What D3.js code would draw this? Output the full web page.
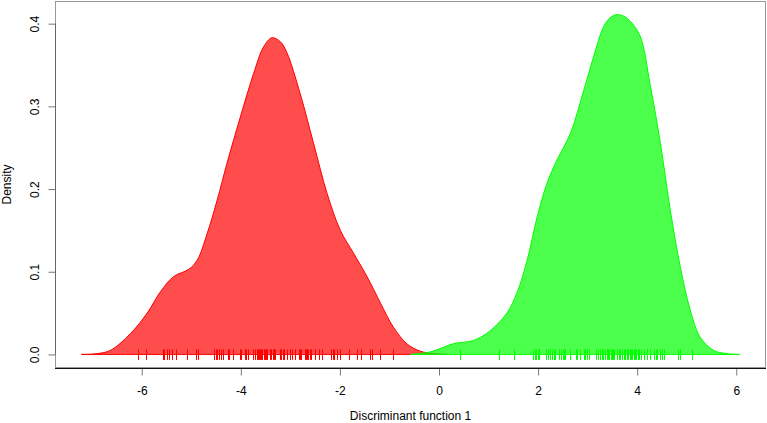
<!DOCTYPE html>
<html>
<head>
<meta charset="utf-8">
<script src="https://cdn.jsdelivr.net/npm/d3@7"></script>
<style>
body { margin: 0; background: #fff; }
text { font-family: "Liberation Sans", Arial, sans-serif; }
</style>
</head>
<body>
<svg id="chart" width="767" height="423"></svg>
<script>
// Density estimate, group 1 (red)
const redX = [-7.22, -6.9, -6.63, -6.23, -5.89, -5.62, -5.36, -5.05, -4.88, -4.68, -4.48, -4.28, -4.01, -3.74, -3.54, -3.37, -3.20, -3.07, -2.80, -2.53, -2.26, -1.99, -1.72, -1.45, -1.18, -0.92, -0.65, -0.38, -0.11, 0.19];
const redY = [0, 0.001, 0.005, 0.025, 0.050, 0.076, 0.094, 0.103, 0.114, 0.146, 0.186, 0.231, 0.287, 0.340, 0.372, 0.383, 0.378, 0.365, 0.315, 0.255, 0.195, 0.150, 0.122, 0.094, 0.062, 0.033, 0.013, 0.004, 0.001, 0];
// Density estimate, group 2 (green)
const greenX = [-0.58, -0.18, 0.29, 0.70, 1.04, 1.37, 1.57, 1.78, 1.98, 2.18, 2.38, 2.65, 2.92, 3.12, 3.32, 3.45, 3.59, 3.73, 3.86, 4.06, 4.26, 4.47, 4.67, 4.87, 5.07, 5.27, 5.54, 5.81, 6.07];
const greenY = [0, 0.003, 0.013, 0.017, 0.029, 0.050, 0.074, 0.114, 0.166, 0.207, 0.235, 0.267, 0.319, 0.360, 0.396, 0.407, 0.411, 0.409, 0.403, 0.385, 0.327, 0.255, 0.174, 0.106, 0.054, 0.021, 0.005, 0.001, 0];
// Rug: observed scores
const redRug = [-6.08, -5.92, -5.58, -5.54, -5.49, -5.45, -5.39, -5.30, -5.09, -4.91, -4.87, -4.55, -4.51, -4.48, -4.45, -4.39, -4.36, -4.25, -4.23, -4.16, -4.02, -4.00, -3.92, -3.89, -3.86, -3.75, -3.71, -3.67, -3.65, -3.63, -3.61, -3.59, -3.57, -3.54, -3.52, -3.50, -3.47, -3.42, -3.39, -3.36, -3.34, -3.31, -3.20, -3.18, -3.14, -3.12, -3.07, -3.00, -2.97, -2.91, -2.83, -2.81, -2.78, -2.71, -2.68, -2.66, -2.64, -2.61, -2.58, -2.50, -2.42, -2.36, -2.17, -2.14, -2.11, -2.06, -1.99, -1.82, -1.66, -1.58, -1.39, -1.35, -1.19, -0.93];
const greenRug = [0.42, 1.21, 1.51, 1.90, 1.93, 1.96, 2.00, 2.02, 2.16, 2.20, 2.25, 2.29, 2.33, 2.35, 2.43, 2.46, 2.50, 2.53, 2.55, 2.64, 2.76, 2.78, 2.85, 2.92, 2.95, 2.99, 3.02, 3.17, 3.20, 3.24, 3.28, 3.32, 3.36, 3.39, 3.42, 3.44, 3.47, 3.50, 3.52, 3.54, 3.59, 3.63, 3.66, 3.69, 3.73, 3.76, 3.79, 3.82, 3.85, 3.87, 3.90, 3.93, 3.96, 3.98, 4.01, 4.04, 4.08, 4.13, 4.20, 4.26, 4.33, 4.37, 4.40, 4.47, 4.50, 4.55, 4.82, 4.86, 5.10];
const xTicks = [-6, -4, -2, 0, 2, 4, 6];
const yTicks = [0.0, 0.1, 0.2, 0.3, 0.4];
const xLabel = "Discriminant function 1";
const yLabel = "Density";

const svg = d3.select("#chart");
const L = 55, R = 766, T = 1, B = 368;
const x = d3.scaleLinear().domain([-7.75, 6.60]).range([L, R]);
const y = d3.scaleLinear().domain([-0.0164, 0.4274]).range([B, T]);

function areaPath(xs, ys) {
  const pts = xs.map((v, i) => [v, ys[i]]);
  return d3.area().x(d => x(d[0])).y0(y(0)).y1(d => y(d[1])).curve(d3.curveCatmullRom.alpha(0.5))(pts);
}

// plot box
svg.append("rect").attr("x", L + 0.5).attr("y", T + 0.5).attr("width", R - L - 1).attr("height", B - T - 1)
  .attr("fill", "none").attr("stroke", "#999").attr("stroke-width", 1);

svg.append("path").attr("d", areaPath(redX, redY))
  .attr("fill", "rgba(255,0,0,0.7)").attr("stroke", "#ff0000").attr("stroke-width", 1);
svg.append("path").attr("d", areaPath(greenX, greenY))
  .attr("fill", "rgba(0,255,0,0.7)").attr("stroke", "#00ff00").attr("stroke-width", 1);

// rugs
svg.append("g").selectAll("line").data(redRug).join("line")
  .attr("x1", d => Math.round(x(d)) + 0.5).attr("x2", d => Math.round(x(d)) + 0.5)
  .attr("y1", y(0) - 5).attr("y2", y(0) + 5.5)
  .attr("stroke", "#ff0000").attr("stroke-width", 1);
svg.append("g").selectAll("line").data(greenRug).join("line")
  .attr("x1", d => Math.round(x(d)) + 0.5).attr("x2", d => Math.round(x(d)) + 0.5)
  .attr("y1", y(0) - 5).attr("y2", y(0) + 5.5)
  .attr("stroke", "#00ff00").attr("stroke-width", 1);

// bottom axis
const xAxis = svg.append("g").attr("transform", `translate(0,${B + 0.5})`)
  .call(d3.axisBottom(x).tickValues(xTicks).tickSize(7).tickPadding(11).tickFormat(d3.format("d")));
xAxis.select(".domain").remove();
xAxis.append("line").attr("x1", L).attr("x2", R).attr("stroke", "#111");
xAxis.selectAll(".tick line").attr("stroke", "#777");
xAxis.selectAll(".tick text").attr("fill", "#000").style("font-size", "12px")
  .style("font-family", "Liberation Sans, Arial, sans-serif").text(d => d < 0 ? "-" + Math.abs(d) : d);

// left axis
const yAxis = svg.append("g").attr("transform", `translate(${L + 0.5},0)`)
  .call(d3.axisLeft(y).tickValues(yTicks).tickSize(7).tickFormat(d3.format(".1f")));
yAxis.select(".domain").remove();
yAxis.append("line").attr("y1", y(0)).attr("y2", y(0.4)).attr("stroke", "#666");
yAxis.selectAll(".tick line").attr("stroke", "#777");
yAxis.selectAll(".tick text").remove();
yAxis.selectAll(".tick").append("text")
  .attr("transform", "translate(-21,0) rotate(-90)")
  .attr("text-anchor", "middle").attr("dy", "0.35em")
  .attr("fill", "#000").style("font-size", "12px").text(d => d3.format(".1f")(d));

// axis titles
svg.append("text").attr("x", (L + R) / 2).attr("y", 420).attr("text-anchor", "middle")
  .style("font-size", "12px").attr("fill", "#000").text(xLabel);
svg.append("text").attr("transform", `translate(6.5,${(T + B) / 2}) rotate(-90)`)
  .attr("text-anchor", "middle").attr("dy", "0.35em")
  .style("font-size", "12px").attr("fill", "#000").text(yLabel);
</script>
</body>
</html>
